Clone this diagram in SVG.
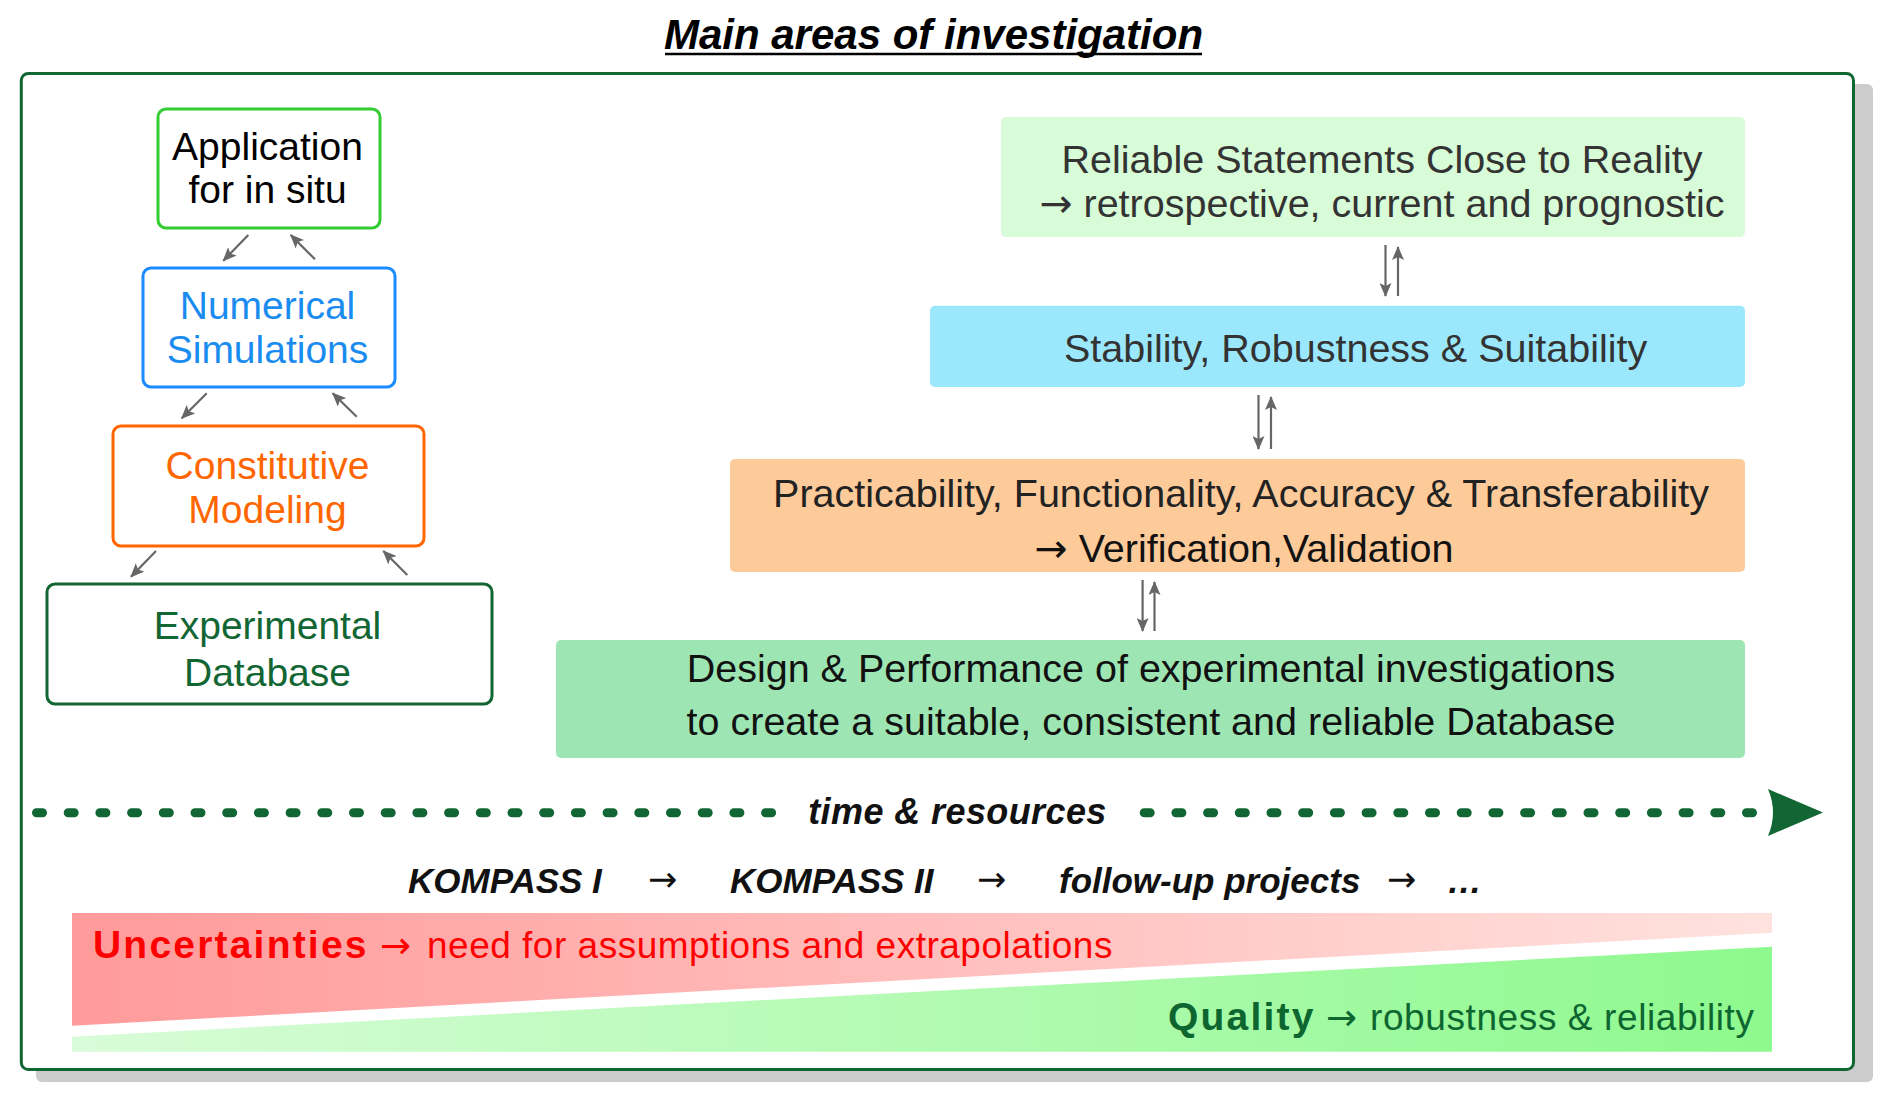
<svg xmlns="http://www.w3.org/2000/svg" width="1892" height="1102" viewBox="0 0 1892 1102">
<style>
text{font-family:"Liberation Sans",Arial,sans-serif}
.bi{font-weight:bold;font-style:italic}
.lbl{font-size:39px;text-anchor:middle}
.rt{font-size:39.5px;text-anchor:middle}
.ar{font-family:"DejaVu Sans",sans-serif;font-weight:normal;font-style:normal}
.conn{stroke:#666;stroke-width:2.2;fill:none;marker-end:url(#ah)}
.kp{font-size:35px;fill:#111}
</style>
<defs>
<marker id="ah" viewBox="0 0 14 12" refX="13" refY="6" markerWidth="14" markerHeight="12" markerUnits="userSpaceOnUse" orient="auto">
<path d="M0,0 L14,6 L0,12 L3,6 z" fill="#666"/>
</marker>
<linearGradient id="gRed" x1="0" y1="0" x2="1" y2="0">
<stop offset="0" stop-color="#ff9a9a"/>
<stop offset="1" stop-color="#ffe2de"/>
</linearGradient>
<linearGradient id="gGreen" x1="0" y1="0" x2="1" y2="0">
<stop offset="0" stop-color="#d8fcd8"/>
<stop offset="1" stop-color="#8ef98e"/>
</linearGradient>
</defs>

<g id="title">
<text x="933.5" y="49.3" class="bi" font-size="42" text-anchor="middle" fill="#000">Main areas of investigation</text>
<line x1="665" y1="54" x2="1202" y2="54" stroke="#000" stroke-width="2.6"/>
</g>

<g id="frame">
<rect x="36" y="84" width="1837" height="998" rx="6" fill="#cccccc"/>
<rect x="21.3" y="73.5" width="1832.2" height="996" rx="7" fill="#fff" stroke="#116633" stroke-width="3"/>
</g>

<g id="node-application">
<rect x="158" y="109" width="222" height="119" rx="8" fill="#fff" stroke="#33cc33" stroke-width="3"/>
<text class="lbl" x="267.5" y="160" fill="#000">Application</text>
<text class="lbl" x="267.5" y="203.3" fill="#000">for in situ</text>
</g>
<g id="node-numerical">
<rect x="143" y="268" width="252" height="119" rx="8" fill="#fff" stroke="#1a8cff" stroke-width="3"/>
<text class="lbl" x="267.5" y="319.3" fill="#1a8cf0">Numerical</text>
<text class="lbl" x="267.5" y="363.3" fill="#1a8cf0">Simulations</text>
</g>
<g id="node-constitutive">
<rect x="113" y="426" width="311" height="120" rx="8" fill="#fff" stroke="#ff6600" stroke-width="3"/>
<text class="lbl" x="267.5" y="479" fill="#ff6600">Constitutive</text>
<text class="lbl" x="267.5" y="523.3" fill="#ff6600">Modeling</text>
</g>
<g id="node-experimental">
<rect x="47" y="584" width="445" height="120" rx="8" fill="#fff" stroke="#116633" stroke-width="3"/>
<text class="lbl" x="267.5" y="639.3" fill="#116633" font-size="42">Experimental</text>
<text class="lbl" x="267.5" y="686" fill="#116633" font-size="42">Database</text>
</g>

<g id="node-reliable">
<rect x="1001" y="117" width="744" height="120" rx="5" fill="#d8fcd8"/>
<text class="rt" x="1382" y="172.7" fill="#333">Reliable Statements Close to Reality</text>
<text class="rt" x="1382" y="217" fill="#333"><tspan class="ar">→</tspan> retrospective, current and prognostic</text>
</g>
<g id="node-stability">
<rect x="930" y="305.7" width="815" height="81.3" rx="5" fill="#9be8fc"/>
<text class="rt" x="1355.6" y="361.7" fill="#333">Stability, Robustness &amp; Suitability</text>
</g>
<g id="node-practicability">
<rect x="730" y="459" width="1015" height="113" rx="5" fill="#fdca99"/>
<text class="rt" x="1241" y="506.7" fill="#222">Practicability, Functionality, Accuracy &amp; Transferability</text>
<text class="rt" x="1244" y="561.7" fill="#111"><tspan class="ar">→</tspan> Verification,Validation</text>
</g>
<g id="node-design">
<rect x="556" y="640" width="1189" height="118" rx="5" fill="#9de6b3"/>
<text class="rt" x="1151" y="681.7" fill="#111">Design &amp; Performance of experimental investigations</text>
<text class="rt" x="1151" y="735" fill="#111">to create a suitable, consistent and reliable Database</text>
</g>

<g id="connectors">
<line class="conn" x1="248.3" y1="235" x2="223.3" y2="260.7"/>
<line class="conn" x1="315" y1="259.3" x2="290.7" y2="235"/>
<line class="conn" x1="206.7" y1="393.3" x2="181.7" y2="418.3"/>
<line class="conn" x1="356.7" y1="416.7" x2="332.7" y2="393.3"/>
<line class="conn" x1="156" y1="551" x2="131" y2="576.7"/>
<line class="conn" x1="407.3" y1="575" x2="383.3" y2="551"/>
<line class="conn" x1="1385.5" y1="245" x2="1385.5" y2="296"/>
<line class="conn" x1="1398" y1="296" x2="1398" y2="247"/>
<line class="conn" x1="1258.5" y1="395" x2="1258.5" y2="449"/>
<line class="conn" x1="1271" y1="449" x2="1271" y2="397"/>
<line class="conn" x1="1142.6" y1="580" x2="1142.6" y2="631"/>
<line class="conn" x1="1154.5" y1="631" x2="1154.5" y2="582"/>
</g>

<g id="timeline">
<path d="M36.5,812.8 H773" stroke="#116633" stroke-width="9" stroke-linecap="round" stroke-dasharray="6 25.7" fill="none"/>
<path d="M1144.2,812.8 H1753" stroke="#116633" stroke-width="9" stroke-linecap="round" stroke-dasharray="6 25.7" fill="none"/>
<path d="M1768,789 L1823,812.5 L1768,836 Q1778,812.5 1768,789 Z" fill="#116633"/>
<text class="bi" x="957.5" y="824" font-size="36" letter-spacing="0.4" text-anchor="middle" fill="#111">time &amp; resources</text>
</g>

<g id="projects">
<text class="bi kp" x="408" y="893.3">KOMPASS I</text>
<text class="kp ar" x="648" y="891" font-size="38">→</text>
<text class="bi kp" x="730" y="893.3">KOMPASS II</text>
<text class="kp ar" x="977" y="891" font-size="38">→</text>
<text class="bi kp" x="1059" y="893.3">follow-up projects</text>
<text class="kp ar" x="1387" y="891" font-size="38">→</text>
<text class="bi kp" x="1447" y="893.3">…</text>
</g>

<g id="bands">
<polygon points="72,913 1772,913 1772,932.7 72,1025.7" fill="url(#gRed)"/>
<polygon points="72,1036.7 1772,946.7 1772,1051.7 72,1051.7" fill="url(#gGreen)"/>
<text x="93" y="958.3" fill="#ff0000"><tspan font-weight="bold" font-size="39" letter-spacing="2.2">Uncertainties</tspan><tspan x="380" class="ar" font-size="37">→</tspan><tspan x="427" font-size="37" letter-spacing="0.5">need for assumptions and extrapolations</tspan></text>
<text x="1168" y="1030" fill="#0d6630"><tspan font-weight="bold" font-size="39" letter-spacing="2.2">Quality</tspan><tspan x="1326" class="ar" font-size="37">→</tspan><tspan x="1370" font-size="37" letter-spacing="0.6">robustness &amp; reliability</tspan></text>
</g>
</svg>
